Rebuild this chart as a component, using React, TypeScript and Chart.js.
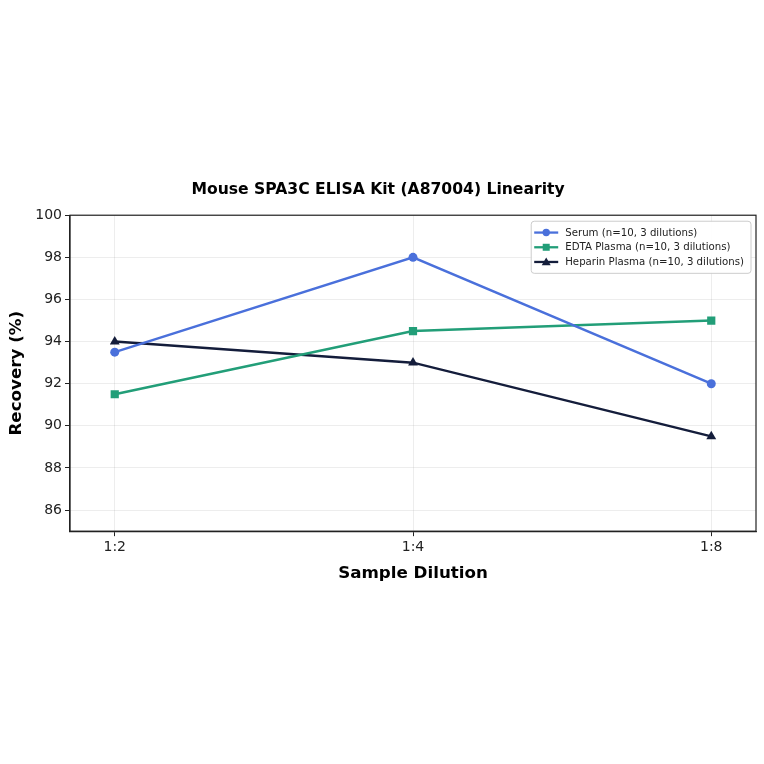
import React, { useEffect, useRef } from "react";
import { Chart, registerables } from "chart.js";

Chart.register(...registerables);

const categories = ["1:2", "1:4", "1:8"];
const serum = [93.5, 98.0, 92.0];
const edta = [91.5, 94.5, 95.0];
const heparin = [94.0, 93.0, 89.5];
const yTicks = [86, 88, 90, 92, 94, 96, 98, 100];
const seriesNames = [
  "Serum (n=10, 3 dilutions)",
  "EDTA Plasma (n=10, 3 dilutions)",
  "Heparin Plasma (n=10, 3 dilutions)",
];
const colors = ["#4a70db", "#229e78", "#141d3b"];
const markers = ["circle", "rect", "triangle"];

const FONT = "'DejaVu Sans', sans-serif";

const framePlugin = {
  id: "frame",
  afterDraw(chart: any) {
    const { ctx, chartArea: a } = chart;
    ctx.save();
    ctx.strokeStyle = "#222";
    ctx.lineWidth = 1.2;
    ctx.strokeRect(a.left, a.top, a.right - a.left, a.bottom - a.top);
    ctx.restore();

    // legend inside plot, top-right
    ctx.save();
    ctx.font = `10.2px ${FONT}`;
    const rowH = 14.7;
    const handle = 24;
    const padL = 3;
    const padR = 7;
    const gap = 7;
    const textW = Math.max(...seriesNames.map((s) => ctx.measureText(s).width));
    const w = padL + handle + gap + textW + padR;
    const h = 6 + rowH * seriesNames.length + 2;
    const x0 = a.right - 5 - w;
    const y0 = a.top + 6;
    ctx.fillStyle = "rgba(255,255,255,0.9)";
    ctx.strokeStyle = "#cccccc";
    ctx.lineWidth = 1;
    ctx.beginPath();
    (ctx as any).roundRect(x0, y0, w, h, 3);
    ctx.fill();
    ctx.stroke();
    seriesNames.forEach((name, i) => {
      const cy = y0 + 4 + rowH * i + rowH / 2;
      const lx = x0 + padL;
      ctx.strokeStyle = colors[i];
      ctx.lineWidth = 2.3;
      ctx.beginPath();
      ctx.moveTo(lx, cy);
      ctx.lineTo(lx + handle, cy);
      ctx.stroke();
      ctx.fillStyle = colors[i];
      const mx = lx + handle / 2;
      ctx.beginPath();
      if (markers[i] === "circle") {
        ctx.arc(mx, cy, 3.7, 0, Math.PI * 2);
      } else if (markers[i] === "rect") {
        ctx.rect(mx - 3.5, cy - 3.5, 7, 7);
      } else {
        ctx.moveTo(mx, cy - 4.5);
        ctx.lineTo(mx + 4.5, cy + 3.2);
        ctx.lineTo(mx - 4.5, cy + 3.2);
        ctx.closePath();
      }
      ctx.fill();
      ctx.fillStyle = "#222";
      ctx.textBaseline = "middle";
      ctx.textAlign = "left";
      ctx.fillText(name, lx + handle + gap, cy + 0.5);
    });
    ctx.restore();
  },
};

export default function App() {
  const ref = useRef<HTMLCanvasElement>(null);
  useEffect(() => {
    if (!ref.current) return;
    const mk = (vals: number[]) => vals.map((v, i) => ({ x: i, y: v }));
    const ds = [serum, edta, heparin].map((vals, i) => ({
      label: seriesNames[i],
      data: mk(vals),
      borderColor: colors[i],
      backgroundColor: colors[i],
      borderWidth: 2.5,
      pointStyle: markers[i] as any,
      pointRadius: markers[i] === "circle" ? 4.5 : markers[i] === "rect" ? 5.8 : 5.7,
      pointBorderWidth: 0,
      tension: 0,
    }));
    const chart = new Chart(ref.current, {
      type: "line",
      data: { datasets: ds },
      plugins: [framePlugin],
      options: {
        animation: false,
        responsive: true,
        maintainAspectRatio: false,
        layout: { padding: { top: 181, bottom: 180, left: 0, right: 8 } },
        plugins: {
          legend: { display: false },
          tooltip: { enabled: false },
          title: {
            display: true,
            text: "Mouse SPA3C ELISA Kit (A87004) Linearity",
            color: "#000",
            font: { family: FONT, size: 15.6, weight: "bold", lineHeight: 1.2 },
            padding: { top: 0, bottom: 15.5 },
          },
        },
        scales: {
          x: {
            type: "linear",
            min: -0.15,
            max: 2.15,
            afterBuildTicks: (s: any) => {
              s.ticks = categories.map((_, i) => ({ value: i }));
            },
            ticks: {
              callback: (v: any) => categories[v] ?? "",
              color: "#222",
              font: { family: FONT, size: 14 },
              padding: 3,
              maxRotation: 0,
            },
            grid: {
              color: "rgba(0,0,0,0.09)",
              lineWidth: 0.8,
              tickLength: 5,
              tickColor: "#222",
              tickWidth: 1,
            },
            border: { color: "#222", width: 1.2 },
            title: {
              display: true,
              text: "Sample Dilution",
              color: "#000",
              font: { family: FONT, size: 16.7, weight: "bold", lineHeight: 1.2 },
              padding: { top: 5, bottom: 0 },
            },
          },
          y: {
            min: 85,
            max: 100,
            afterBuildTicks: (s: any) => {
              s.ticks = yTicks.map((v) => ({ value: v }));
            },
            afterFit: (s: any) => {
              s.width = 70;
            },
            ticks: {
              color: "#222",
              font: { family: FONT, size: 14 },
              padding: 3,
            },
            grid: {
              color: "rgba(0,0,0,0.09)",
              lineWidth: 0.8,
              tickLength: 5,
              tickColor: "#222",
              tickWidth: 1,
            },
            border: { color: "#222", width: 1.2 },
            title: {
              display: true,
              text: "Recovery (%)",
              color: "#000",
              font: { family: FONT, size: 16.7, weight: "bold", lineHeight: 1.2 },
              padding: { top: 7, bottom: 0 },
            },
          },
        },
      },
    });
    return () => chart.destroy();
  }, []);
  return (
    <div style={{ position: "absolute", left: 0, top: 0, width: 764, height: 764, background: "#fff" }}>
      <canvas ref={ref} />
    </div>
  );
}
